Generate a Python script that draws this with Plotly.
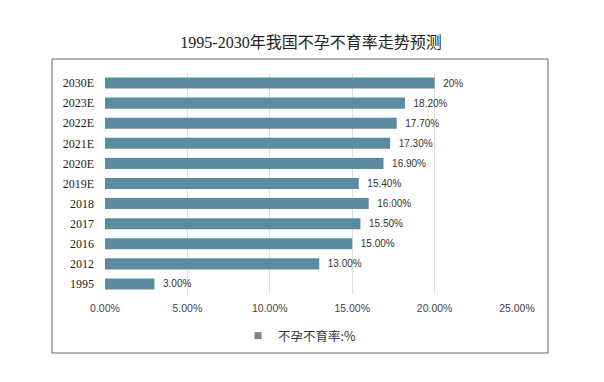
import plotly.graph_objects as go

categories = ["2030E", "2023E", "2022E", "2021E", "2020E", "2019E", "2018", "2017", "2016", "2012", "1995"]
values = [20.0, 18.2, 17.7, 17.3, 16.9, 15.4, 16.0, 15.5, 15.0, 13.0, 3.0]
value_labels = ["20%", "18.20%", "17.70%", "17.30%", "16.90%", "15.40%", "16.00%", "15.50%", "15.00%", "13.00%", "3.00%"]
x_ticks = [0, 5, 10, 15, 20, 25]
x_tick_labels = ["0.00%", "5.00%", "10.00%", "15.00%", "20.00%", "25.00%"]
series_name = "不孕不育率:%"

OFF = 8  # page body margin
W, H = 604 - OFF, 382 - OFF
L, R, T, B = 105 - OFF, 87, 73 - OFF, 88
pw, ph = W - L - R, H - T - B

def px_to_paper_x(px):
    return (px - OFF - L) / pw

def px_to_paper_y(py):
    return (H - B - (py - OFF)) / ph

fig = go.Figure()
fig.add_trace(go.Bar(
    y=categories,
    x=values,
    orientation="h",
    name=series_name,
    showlegend=False,
    marker=dict(color="#5b8ba1", line=dict(width=0)),
    text=["  " + t for t in value_labels],
    textposition="outside",
    textfont=dict(family="Liberation Sans, Noto Sans CJK SC", size=10, color="#333333"),
    cliponaxis=False,
))
# legend entry (small square swatch like the reference)
fig.add_trace(go.Scatter(
    x=[None], y=[None], mode="markers", name=series_name,
    marker=dict(symbol="square", size=7, color="#6f8793"),
    showlegend=True,
))

fig.update_layout(
    width=W, height=H,
    margin=dict(l=L, r=R, t=T, b=B),
    paper_bgcolor="white",
    plot_bgcolor="white",
    bargap=0.45,
    title=dict(
        text="1995-2030年我国不孕不育率走势预测",
        x=px_to_paper_x(311), xref="paper", xanchor="center",
        y=1 - (42 - OFF) / H, yref="container", yanchor="middle",
        font=dict(family="Liberation Serif, Noto Sans CJK SC", size=16, color="#222222"),
    ),
    xaxis=dict(
        range=[0, 25],
        tickvals=x_ticks,
        ticktext=x_tick_labels,
        showgrid=True,
        gridcolor="#e0e0e0",
        gridwidth=1,
        zeroline=False,
        showline=False,
        tickfont=dict(family="Liberation Sans, Noto Sans CJK SC", size=10.5, color="#444444"),
        ticklabelstandoff=6,
    ),
    yaxis=dict(
        autorange="reversed",
        showgrid=False,
        showline=False,
        ticks="",
        tickfont=dict(family="Liberation Serif, Noto Sans CJK SC", size=12, color="#222222"),
        ticklabelstandoff=10,
    ),
    showlegend=True,
    legend=dict(
        orientation="h",
        x=px_to_paper_x(238), xanchor="left",
        y=px_to_paper_y(336), yanchor="middle",
        font=dict(family="Noto Sans CJK SC", size=12.5, color="#333333"),
        itemwidth=30,
    ),
    font=dict(family="Liberation Sans, Noto Sans CJK SC"),
)

fig.add_shape(
    type="rect", xref="paper", yref="paper",
    x0=px_to_paper_x(52), x1=px_to_paper_x(548),
    y0=px_to_paper_y(353), y1=px_to_paper_y(59),
    line=dict(color="#666666", width=1),
    fillcolor="rgba(0,0,0,0)",
    layer="below",
)

fig.write_html("out.html")
